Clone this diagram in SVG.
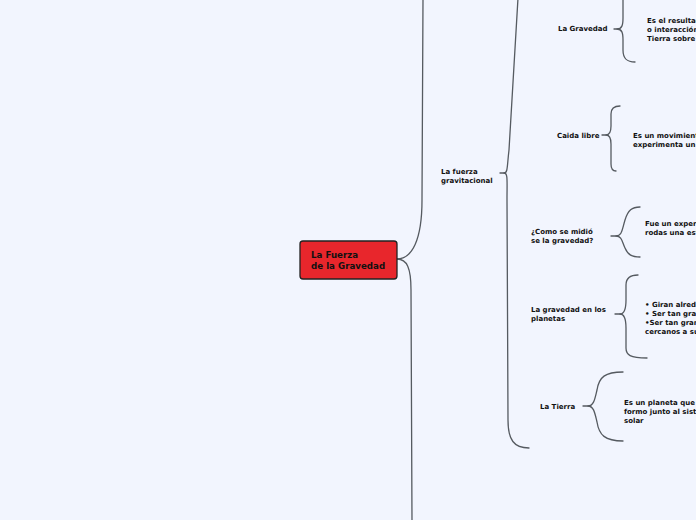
<svg xmlns="http://www.w3.org/2000/svg" width="696" height="520" viewBox="0 0 696 520">
<style>
.bg{fill:#f2f5fe}
.c{fill:none;stroke:#555a60;stroke-width:1.3;stroke-linecap:round}
.t{font-family:"DejaVu Sans",Verdana,sans-serif;font-weight:bold;font-size:7px;fill:#111}
.ct{font-family:"DejaVu Sans",Verdana,sans-serif;font-weight:bold;font-size:8.7px;fill:#111}
</style>
<rect class="bg" x="0" y="0" width="696" height="520"/>
<g id="connectors">
<path class="c" d="M397,259 C412,259 422,240 422,200 L423,-2"/>
<path class="c" d="M397,259 C407,259 411,268 411,290 L412,522"/>
<path class="c" d="M500,173 L504,173 C508,173 507,166 509,150 L518,-2"/>
<path class="c" d="M504,173 C508,173 507,180 507,200 L508,420 C508,440 514,448 529,448"/>
<path class="c" d="M614,29 L617,29 C622,29 623,25 623,18 L623,-2"/>
<path class="c" d="M617,29 C622,29 623,33 623,40 L623,50 C623,59 627,62 635,62"/>
<path class="c" d="M602,135 L606,135 C610,135 611,131 611,126 L611,114 C611,108 614,106 620,106"/>
<path class="c" d="M606,135 C610,135 611,139 611,144 L611,164 C611,169 613,171 616,171"/>
<path class="c" d="M611,236 L616,236 C622,236 622,230 625,220 C628,210 632,207 640,207"/>
<path class="c" d="M616,236 C622,236 622,242 625,248 C628,255 632,257 640,257"/>
<path class="c" d="M615,314 L620,314 C625,314 626,308 626,300 L626,285 C626,278 630,275 638,275"/>
<path class="c" d="M620,314 C625,314 626,320 626,328 L626,348 C626,355 630,358 647,358"/>
<path class="c" d="M583,406 L588,406 C594,406 595,398 597,390 C599,377 605,372 623,372"/>
<path class="c" d="M588,406 C594,406 595,414 597,422 C599,435 605,441 623,441"/>
</g>
<g id="central">
<rect x="300" y="241" width="97" height="38" rx="3" fill="#e8262c" stroke="#222" stroke-width="1.3"/>
<text class="ct" x="311" y="258">La Fuerza</text>
<text class="ct" x="311" y="269">de la Gravedad</text>
</g>
<g id="fuerza-gravitacional">
<text class="t" x="441" y="174">La fuerza</text>
<text class="t" x="441" y="183">gravitacional</text>
</g>
<g id="gravedad">
<text class="t" x="558" y="31">La Gravedad</text>
</g>
<g id="gravedad-def">
<text class="t" x="647" y="23">Es el resultado</text>
<text class="t" x="647" y="32">o interacción</text>
<text class="t" x="647" y="41">Tierra sobre</text>
</g>
<g id="caida">
<text class="t" x="557" y="138">Caida libre</text>
</g>
<g id="caida-def">
<text class="t" x="633" y="138">Es un movimiento</text>
<text class="t" x="633" y="147">experimenta un</text>
</g>
<g id="midio">
<text class="t" x="531" y="234">¿Como se midió</text>
<text class="t" x="531" y="243">se la gravedad?</text>
</g>
<g id="midio-def">
<text class="t" x="645" y="226">Fue un experimento</text>
<text class="t" x="645" y="235">rodas una esfera</text>
</g>
<g id="planetas">
<text class="t" x="531" y="312">La gravedad en los</text>
<text class="t" x="531" y="321">planetas</text>
</g>
<g id="planetas-def">
<text class="t" x="645" y="307">• Giran alrededor</text>
<text class="t" x="645" y="316">• Ser tan grandes</text>
<text class="t" x="645" y="325">•Ser tan grandes</text>
<text class="t" x="645" y="334">cercanos a su</text>
</g>
<g id="tierra">
<text class="t" x="540" y="409">La Tierra</text>
</g>
<g id="tierra-def">
<text class="t" x="624" y="405">Es un planeta que</text>
<text class="t" x="624" y="414">formo junto al sistema</text>
<text class="t" x="624" y="423">solar</text>
</g>
</svg>
